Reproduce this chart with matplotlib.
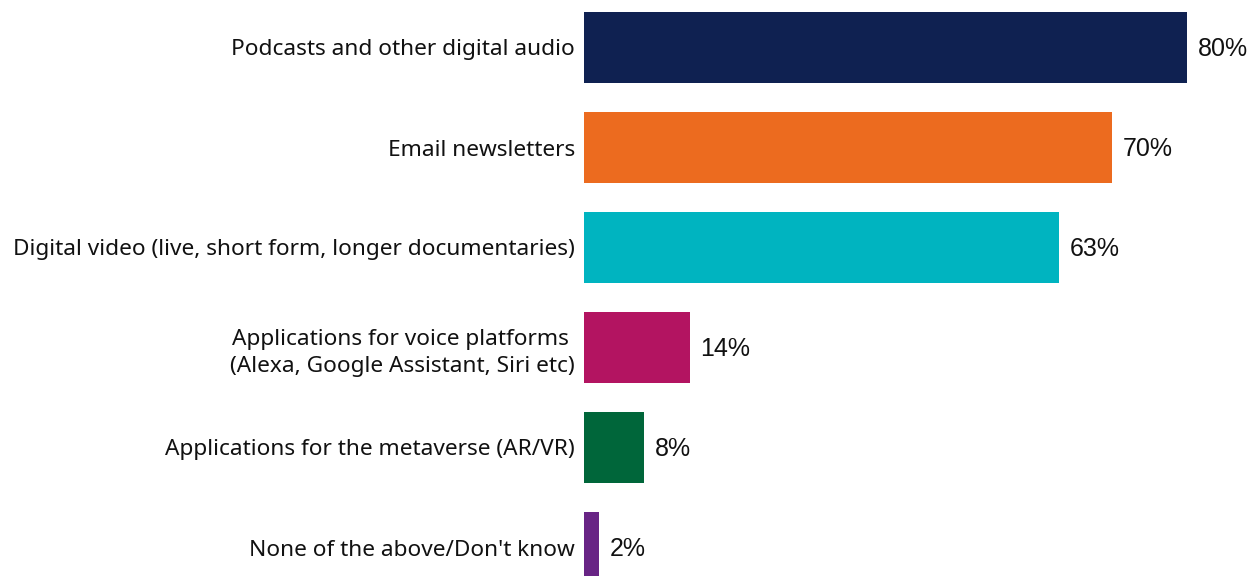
import matplotlib
matplotlib.use("Agg")
import matplotlib.pyplot as plt

categories = [
    "Podcasts and other digital audio",
    "Email newsletters",
    "Digital video (live, short form, longer documentaries)",
    "Applications for voice platforms \n(Alexa, Google Assistant, Siri etc)",
    "Applications for the metaverse (AR/VR)",
    "None of the above/Don't know",
]
values = [80, 70, 63, 14, 8, 2]
value_labels = ["80%", "70%", "63%", "14%", "8%", "2%"]
colors = ["#0f2151", "#ec6b1f", "#00b4c0", "#b31461", "#00663a", "#682485"]

W, H = 1258, 576
fig = plt.figure(figsize=(W / 100, H / 100), dpi=100)
left_px = 584
ax = fig.add_axes([left_px / W, 0, (W - left_px) / W, 1])
px_per_unit = 7.5375
ax.set_xlim(0, (W - left_px) / px_per_unit)
ax.set_ylim((H - 47.5) / 100, -0.475)

pos = list(range(len(categories)))
ax.barh(pos, values, height=0.71, color=colors)
for p, v, t in zip(pos, values, value_labels):
    ax.text(v + 11 / px_per_unit, p + 0.01, t, va="center", ha="left",
            fontsize=18, family=["Liberation Sans"], color="#111111")

ax.set_yticks(pos)
ax.set_yticklabels(categories, fontsize=16.3, family=["Noto Sans"], color="#111111",
                   linespacing=1.35)
ax.tick_params(axis="y", length=0, pad=6.5)
ax.set_xticks([])
for s in ax.spines.values():
    s.set_visible(False)

fig.savefig("out.png", dpi=100)
